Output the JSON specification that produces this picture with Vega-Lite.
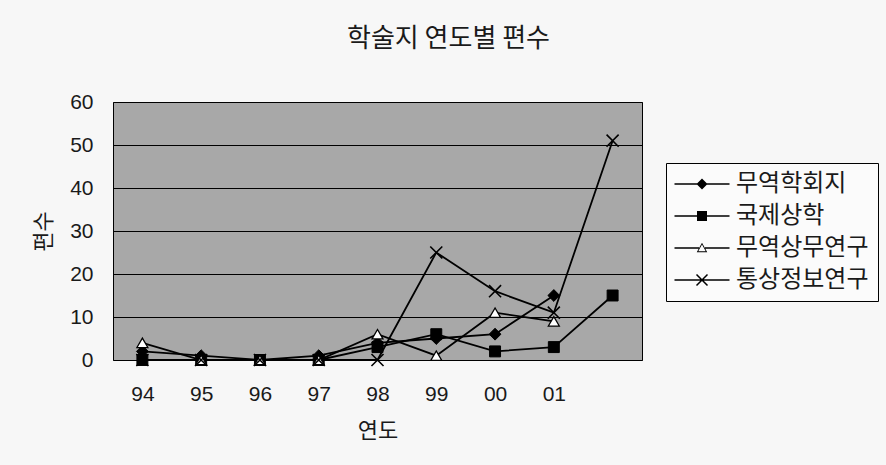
{
  "$schema": "https://vega.github.io/schema/vega-lite/v6.json",
  "width": 529,
  "height": 258,
  "autosize": "none",
  "padding": {"left": 113, "top": 102, "right": 244, "bottom": 105},
  "background": "#f7f7f7",
  "title": {
    "text": "학술지 연도별 편수",
    "font": "Noto Sans CJK KR",
    "fontSize": 26,
    "fontWeight": "normal",
    "color": "#1a1a1a",
    "offset": 39,
    "dx": 71,
    "anchor": "middle"
  },
  "data": {
    "values": [
      {"series": "무역학회지", "year": 1994, "count": 2},
      {"series": "무역학회지", "year": 1995, "count": 1},
      {"series": "무역학회지", "year": 1996, "count": 0},
      {"series": "무역학회지", "year": 1997, "count": 1},
      {"series": "무역학회지", "year": 1998, "count": 4},
      {"series": "무역학회지", "year": 1999, "count": 5},
      {"series": "무역학회지", "year": 2000, "count": 6},
      {"series": "무역학회지", "year": 2001, "count": 15},
      {"series": "국제상학", "year": 1994, "count": 0},
      {"series": "국제상학", "year": 1995, "count": 0},
      {"series": "국제상학", "year": 1996, "count": 0},
      {"series": "국제상학", "year": 1997, "count": 0},
      {"series": "국제상학", "year": 1998, "count": 3},
      {"series": "국제상학", "year": 1999, "count": 6},
      {"series": "국제상학", "year": 2000, "count": 2},
      {"series": "국제상학", "year": 2001, "count": 3},
      {"series": "국제상학", "year": 2002, "count": 15},
      {"series": "무역상무연구", "year": 1994, "count": 4},
      {"series": "무역상무연구", "year": 1995, "count": 0},
      {"series": "무역상무연구", "year": 1996, "count": 0},
      {"series": "무역상무연구", "year": 1997, "count": 0},
      {"series": "무역상무연구", "year": 1998, "count": 6},
      {"series": "무역상무연구", "year": 1999, "count": 1},
      {"series": "무역상무연구", "year": 2000, "count": 11},
      {"series": "무역상무연구", "year": 2001, "count": 9},
      {"series": "통상정보연구", "year": 1994, "count": 0},
      {"series": "통상정보연구", "year": 1995, "count": 0},
      {"series": "통상정보연구", "year": 1996, "count": 0},
      {"series": "통상정보연구", "year": 1997, "count": 0},
      {"series": "통상정보연구", "year": 1998, "count": 0},
      {"series": "통상정보연구", "year": 1999, "count": 25},
      {"series": "통상정보연구", "year": 2000, "count": 16},
      {"series": "통상정보연구", "year": 2001, "count": 11},
      {"series": "통상정보연구", "year": 2002, "count": 51}
    ]
  },
  "encoding": {
    "x": {
      "field": "year",
      "type": "ordinal",
      "scale": {"domain": [1994, 1995, 1996, 1997, 1998, 1999, 2000, 2001, 2002], "padding": 0.5},
      "title": "연도",
      "axis": {
        "labelAngle": 0,
        "ticks": false,
        "domain": false,
        "grid": false,
        "labelFont": "Liberation Sans",
        "labelFontSize": 21,
        "labelColor": "#1a1a1a",
        "labelPadding": 23,
        "labelExpr": "datum.value == 2002 ? '' : slice(toString(datum.value), 2)",
        "titleFont": "Noto Sans CJK KR",
        "titleFontSize": 22,
        "titleFontWeight": "normal",
        "titleColor": "#1a1a1a",
        "titlePadding": 16
      }
    },
    "y": {
      "field": "count",
      "type": "quantitative",
      "scale": {"domain": [0, 60], "nice": false},
      "title": "편수",
      "axis": {
        "values": [0, 10, 20, 30, 40, 50, 60],
        "grid": true,
        "gridColor": "black",
        "gridWidth": 1,
        "gridOpacity": 1,
        "ticks": false,
        "domain": false,
        "labelFont": "Liberation Sans",
        "labelFontSize": 21,
        "labelColor": "#1a1a1a",
        "labelPadding": 20,
        "titleFont": "Noto Sans CJK KR",
        "titleFontSize": 22,
        "titleFontWeight": "normal",
        "titleColor": "#1a1a1a",
        "titlePadding": 14
      }
    }
  },
  "layer": [
    {
      "mark": {"type": "line", "color": "black", "strokeWidth": 1.8},
      "encoding": {"detail": {"field": "series"}}
    },
    {
      "transform": [{"filter": "datum.series === '무역학회지'"}],
      "mark": {"type": "point", "shape": "diamond", "filled": true, "fill": "black", "stroke": "black", "strokeWidth": 1, "opacity": 1, "size": 140}
    },
    {
      "transform": [{"filter": "datum.series === '국제상학'"}],
      "mark": {"type": "point", "shape": "square", "filled": true, "fill": "black", "stroke": "black", "strokeWidth": 1, "opacity": 1, "size": 120}
    },
    {
      "transform": [{"filter": "datum.series === '무역상무연구'"}],
      "mark": {"type": "point", "shape": "triangle-up", "filled": true, "fill": "white", "stroke": "black", "strokeWidth": 1.3, "opacity": 1, "size": 120}
    },
    {
      "transform": [{"filter": "datum.series === '통상정보연구'"}],
      "mark": {"type": "point", "shape": "M-1.1,-1.1L1.1,1.1M-1.1,1.1L1.1,-1.1", "filled": false, "stroke": "black", "strokeWidth": 1.6, "opacity": 1, "size": 120}
    },
    {
      "transform": [{"filter": "false"}],
      "mark": {"type": "point", "filled": true, "opacity": 1},
      "encoding": {
        "shape": {
          "field": "series",
          "type": "nominal",
          "scale": {
            "domain": ["무역학회지", "국제상학", "무역상무연구", "통상정보연구"],
            "range": [
              "M-5.5,-0.16H5.5V0.16H-5.5ZM0,-1.1L1.1,0L0,1.1L-1.1,0Z",
              "M-5.5,-0.16H5.5V0.16H-5.5ZM-1,-1H1V1H-1Z",
              "M-5.5,-0.16H-0.6V0.16H-5.5ZM0.6,-0.16H5.5V0.16H0.6ZM0,-1.05L1.05,0.85L-1.05,0.85ZM0,-0.68L-0.74,0.63L0.74,0.63Z",
              "M-5.5,-0.16H5.5V0.16H-5.5ZM-0.994,-1.206L1.206,0.994L0.994,1.206L-1.206,-0.994ZM-1.206,0.994L0.994,-1.206L1.206,-0.994L-0.994,1.206Z"
            ]
          },
          "legend": {
            "orient": "none",
            "legendX": 553,
            "legendY": 61,
            "title": null,
            "padding": 9,
            "strokeColor": "black",
            "fillColor": "#fbfbfb",
            "labelFont": "Noto Sans CJK KR",
            "labelFontSize": 24,
            "labelColor": "#1a1a1a",
            "symbolSize": 100,
            "symbolOffset": 15,
            "labelOffset": 22,
            "rowPadding": 8
          }
        },
        "fill": {
          "field": "series",
          "type": "nominal",
          "scale": {
            "domain": ["무역학회지", "국제상학", "무역상무연구", "통상정보연구"],
            "range": ["black", "black", "black", "black"]
          },
          "legend": {
            "orient": "none",
            "legendX": 553,
            "legendY": 61,
            "title": null,
            "padding": 9,
            "strokeColor": "black",
            "fillColor": "#fbfbfb",
            "labelFont": "Noto Sans CJK KR",
            "labelFontSize": 24,
            "labelColor": "#1a1a1a",
            "symbolSize": 100,
            "symbolOffset": 15,
            "labelOffset": 22,
            "rowPadding": 8
          }
        }
      }
    }
  ],
  "config": {
    "view": {"fill": "#a8a8a8", "stroke": "black", "strokeWidth": 1}
  }
}
